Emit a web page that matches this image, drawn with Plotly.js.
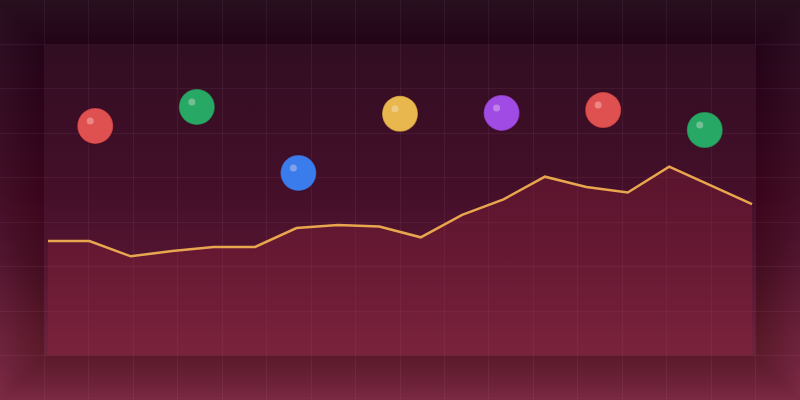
<!DOCTYPE html>
<html><head><meta charset="utf-8">
<script src="https://cdn.plot.ly/plotly-3.0.1.min.js"></script>
<style>
html,body{margin:0;padding:0;width:800px;height:400px;overflow:hidden;}
body{background:linear-gradient(180deg,#28101f 0%,#2e0e22 12%,#380e25 30%,#430f29 48%,#541631 65%,#6a213b 82%,#7f2c45 100%);}
#chart{width:800px;height:400px;}
</style></head><body><div id="chart"></div>
<script>
// ---- data ----
const steps = [0,1,2,3,4,5,6,7,8,9,10,11,12,13,14,15,16,17];
const lineValues = [36.8,36.8,31.9,33.6,34.9,34.9,41.0,42.0,41.5,38.0,45.2,50.2,57.5,54.2,52.4,60.7,54.7,48.7];
const ballSlots = [0,1,2,3,4,5,6];
const ballValues = [73.8,79.9,58.7,77.7,78.0,78.9,72.5];
const ballColors = ['#df5050','#27a865','#3b7cec','#e8b74d','#9f4be4','#df5050','#27a865'];

// ---- geometry of the scene (grid of 18 x 9 cells, panel = cells 1..17 x 1..8) ----
const W = 800, H = 400;
const stepPx = (752 - 48) / 17;
const lineRange = [-48 / stepPx, (W - 48) / stepPx];
const slotPx = (W * 16 / 18) / 7;
const slotStart = -(W / 18 + slotPx / 2) / slotPx;
const ballRange = [slotStart, slotStart + W / slotPx];
const valRange = [-100 / 7, 800 / 7];
const unitPerPxY = (valRange[1] - valRange[0]) / H;
const hx = 5 / slotPx, hy = 5 * unitPerPxY;

const hidden = {showticklabels:false, zeroline:false, showline:false, ticks:'', fixedrange:true};

const traces = [
  {x: steps, y: lineValues, xaxis:'x2', yaxis:'y2', type:'scatter', mode:'lines',
   line:{color:'#e8a64e', width:2.5, shape:'linear'}, fill:'tozeroy',
   fillcolor:'rgba(150,35,60,0.30)', hoverinfo:'skip'},
  {x: ballSlots, y: ballValues, xaxis:'x3', yaxis:'y2', type:'scatter', mode:'markers',
   marker:{size:36, color: ballColors, opacity:1, line:{color:'rgba(60,0,20,0.25)', width:1.5}}, hoverinfo:'skip'},
  {x: ballSlots, y: ballValues, xaxis:'x4', yaxis:'y3', type:'scatter', mode:'markers',
   marker:{size:7, color:'rgba(255,235,235,0.35)', line:{width:0}}, hoverinfo:'skip'}
];

// soft shadow frames around the panel
const shapes = [];
const px0 = 1, px1 = 17, py0 = 1, py1 = 8;
const inner = `M${px0},${py0} L${px1},${py0} L${px1},${py1} L${px0},${py1} Z`;
for (let k = 1; k <= 10; k++) {
  const e = k * 0.1;
  const oy = 0.03;
  const outer = `M${px0-e},${py0-e+oy} L${px1+e},${py0-e+oy} L${px1+e},${py1+e+oy} L${px0-e},${py1+e+oy} Z`;
  shapes.push({type:'path', xref:'x', yref:'y', path: outer + ' ' + inner, fillrule:'evenodd',
    fillcolor:'rgba(20,0,10,0.028)', line:{width:0}, layer:'below'});
}
shapes.push({type:'rect', xref:'x', yref:'y', x0:px0, x1:px1, y0:py0, y1:py1,
  fillcolor:'rgba(90,20,45,0.10)', line:{width:0}, layer:'below'});

const layout = {
  width: W, height: H, margin:{l:0,r:0,t:0,b:0,pad:0},
  paper_bgcolor:'rgba(0,0,0,0)', plot_bgcolor:'rgba(0,0,0,0)',
  showlegend:false,
  xaxis: Object.assign({range:[0,18], dtick:1, tick0:0, showgrid:true, gridcolor:'rgba(255,210,230,0.06)', gridwidth:1}, hidden),
  yaxis: Object.assign({range:[9,0], dtick:1, tick0:0, showgrid:true, gridcolor:'rgba(255,210,230,0.06)', gridwidth:1}, hidden),
  xaxis2: Object.assign({range:lineRange, overlaying:'x', showgrid:false}, hidden),
  yaxis2: Object.assign({range:valRange, overlaying:'y', showgrid:false}, hidden),
  xaxis3: Object.assign({range:ballRange, overlaying:'x', showgrid:false}, hidden),
  xaxis4: Object.assign({range:[ballRange[0]+hx, ballRange[1]+hx], overlaying:'x', showgrid:false}, hidden),
  yaxis3: Object.assign({range:[valRange[0]-hy, valRange[1]-hy], overlaying:'y', showgrid:false}, hidden),
  shapes: shapes
};

Plotly.newPlot('chart', traces, layout, {staticPlot:true, displayModeBar:false});
</script></body></html>
